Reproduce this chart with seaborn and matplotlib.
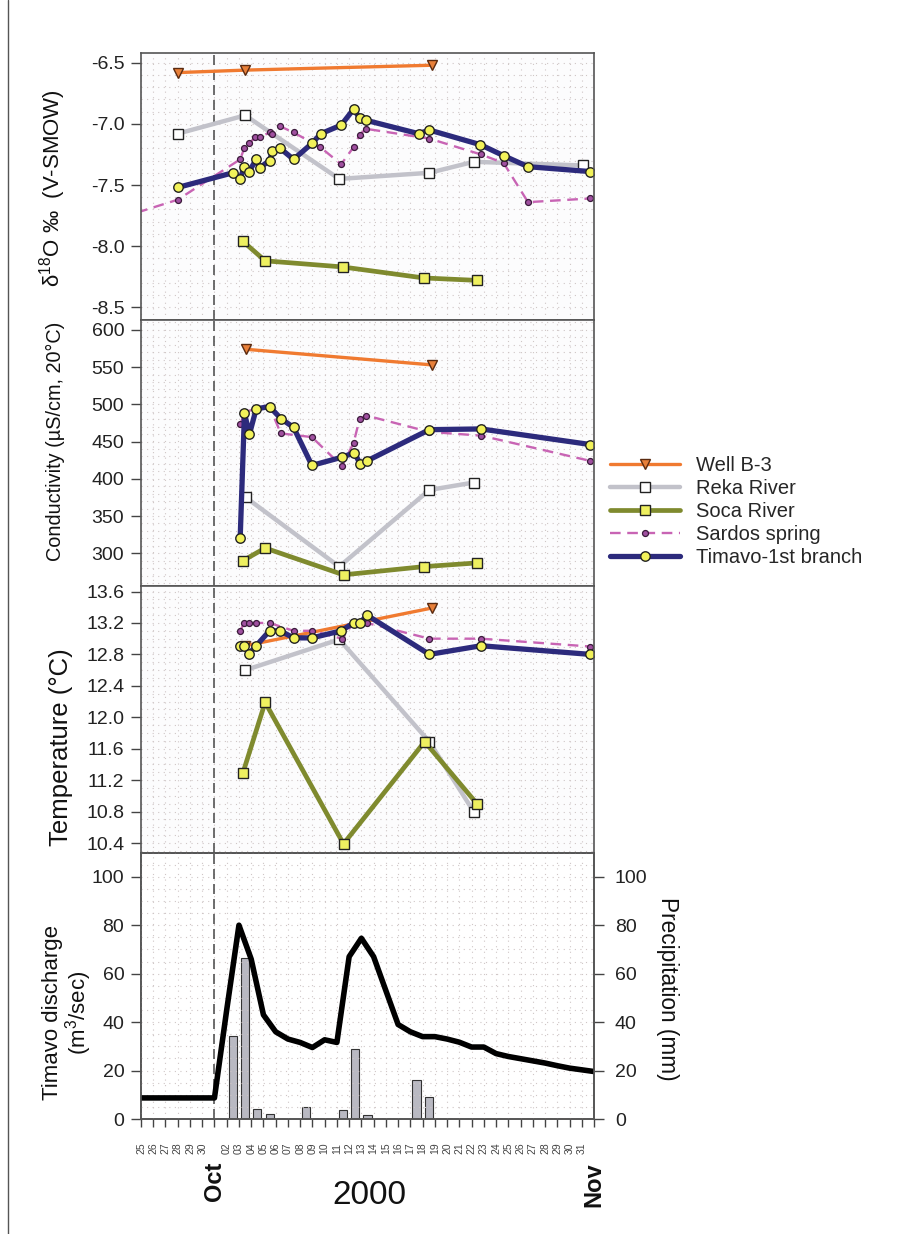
import matplotlib
matplotlib.use("Agg")
import matplotlib.pyplot as plt
import matplotlib.ticker as mticker
import matplotlib.transforms as mtransforms
from matplotlib.lines import Line2D
import seaborn as sns

# ---------------- data (x = day of October 2000; Sep 25 = -5, Nov 1 = 32)
tick_days = list(range(-5, 33))
tick_labels = [str(d + 30) if d <= 0 else ("" if d in (1, 32) else f"{d:02d}") for d in tick_days]

# delta 18O
well_d18o_x = [-1.94, 3.51, 18.77]
well_d18o_y = [-6.58, -6.56, -6.52]
reka_d18o_x = [-2.0, 3.51, 11.19, 18.55, 22.17, 31.08]
reka_d18o_y = [-7.08, -6.93, -7.45, -7.40, -7.31, -7.34]
soca_d18o_x = [3.32, 5.14, 11.46, 18.08, 22.44]
soca_d18o_y = [-7.96, -8.12, -8.17, -8.26, -8.28]
sardos_d18o_x = [-8.0, -2.0, 3.10, 3.43, 3.83, 4.32, 4.68, 5.50, 5.74, 6.37, 7.46, 9.64,
                 11.35, 12.36, 12.85, 13.37, 18.55, 22.77, 24.62, 26.61, 31.71]
sardos_d18o_y = [-7.81, -7.62, -7.29, -7.20, -7.16, -7.11, -7.11, -7.07, -7.08, -7.02, -7.07, -7.19,
                 -7.33, -7.19, -7.09, -7.04, -7.12, -7.25, -7.32, -7.64, -7.61]
timavo_d18o_x = [-2.0, 2.50, 3.10, 3.43, 3.83, 4.41, 4.68, 5.50, 5.74, 6.37, 7.46, 8.96, 9.69,
                 11.35, 12.36, 12.85, 13.37, 17.68, 18.55, 22.72, 24.62, 26.61, 31.71]
timavo_d18o_y = [-7.52, -7.40, -7.45, -7.35, -7.39, -7.29, -7.36, -7.30, -7.22, -7.20, -7.29, -7.16, -7.08,
                 -7.01, -6.88, -6.95, -6.97, -7.08, -7.05, -7.17, -7.26, -7.35, -7.39]

# conductivity
well_cond_x = [3.56, 18.77]
well_cond_y = [574, 553]
reka_cond_x = [3.56, 11.19, 18.55, 22.17]
reka_cond_y = [375, 282, 385, 395]
soca_cond_x = [3.32, 5.14, 11.54, 18.08, 22.44]
soca_cond_y = [290, 307, 271, 282, 287]
sardos_cond_x = [3.10, 3.51, 4.41, 5.50, 6.42, 8.96, 11.41, 12.36, 12.85, 13.40, 18.55, 22.77, 31.71]
sardos_cond_y = [473, 490, 494, 497, 461, 456, 417, 448, 480, 485, 463, 458, 424]
timavo_cond_x = [3.10, 3.45, 3.86, 4.41, 5.50, 6.42, 7.46, 8.96, 11.41, 12.42, 12.91, 13.45, 18.55, 22.77, 31.71]
timavo_cond_y = [320, 488, 460, 494, 497, 481, 469, 418, 429, 435, 420, 424, 466, 467, 446]

# temperature
well_temp_x = [3.51, 18.77]
well_temp_y = [12.91, 13.39]
reka_temp_x = [3.51, 11.19, 18.55, 22.17]
reka_temp_y = [12.60, 12.99, 11.69, 10.80]
soca_temp_x = [3.32, 5.14, 11.54, 18.17, 22.44]
soca_temp_y = [11.29, 12.19, 10.39, 11.69, 10.90]
sardos_temp_x = [3.10, 3.43, 3.83, 4.41, 5.50, 7.46, 8.96, 11.41, 12.36, 12.91, 13.45, 18.55, 22.77, 31.71]
sardos_temp_y = [13.10, 13.20, 13.20, 13.20, 13.20, 13.10, 13.10, 13.00, 13.20, 13.20, 13.20, 13.00, 13.00, 12.90]
timavo_temp_x = [3.10, 3.43, 3.83, 4.41, 5.50, 6.37, 7.46, 8.96, 11.35, 12.36, 12.91, 13.45, 18.55, 22.77, 31.71]
timavo_temp_y = [12.91, 12.91, 12.81, 12.91, 13.10, 13.10, 13.01, 13.01, 13.10, 13.20, 13.20, 13.30, 12.80, 12.91, 12.80]

# discharge (daily) and precipitation
discharge_x = list(range(-5, 33))
discharge_y = [8.7, 8.7, 8.7, 8.7, 8.7, 8.7, 8.7, 45, 80, 66, 43, 36, 33, 31.6, 29.5, 32.7, 31.6,
               67, 74.6, 67, 53, 39, 36, 34, 34, 33, 31.7, 29.7, 29.7, 27, 25.8, 24.9, 24, 23.1,
               22, 21, 20.3, 19.6]
precip_x = [2.5, 3.5, 4.5, 5.5, 8.5, 11.5, 12.5, 13.5, 17.5, 18.5]
precip_y = [34.1, 66.6, 4.3, 2.1, 4.8, 3.8, 28.8, 1.8, 16.2, 9.1]

series_names = ["Well B-3", "Reka River", "Soca River", "Sardos spring", "Timavo-1st branch"]

# ---------------- style
sns.set_theme(style="white")
plt.rcParams["font.family"] = ["Liberation Sans", "DejaVu Sans"]
plt.rcParams["mathtext.fontset"] = "custom"
plt.rcParams["mathtext.rm"] = "Liberation Sans"
plt.rcParams["mathtext.it"] = "Liberation Sans:italic"
plt.rcParams["mathtext.default"] = "regular"
plt.rcParams["axes.unicode_minus"] = False

styles = {
    "Well B-3": dict(color="#f07a30", linewidth=2.4, marker="v", markersize=7,
                     markerfacecolor="#e8803a", markeredgecolor="#5a2a10", markeredgewidth=1.0),
    "Reka River": dict(color="#c2c2ca", linewidth=3.2, marker="s", markersize=6.5,
                       markerfacecolor="white", markeredgecolor="#222222", markeredgewidth=1.0),
    "Soca River": dict(color="#7f8a2e", linewidth=3.4, marker="s", markersize=6.5,
                       markerfacecolor="#eef060", markeredgecolor="#222222", markeredgewidth=1.0),
    "Sardos spring": dict(color="#c864b4", linewidth=1.7, linestyle=(0, (4.5, 2.8)), marker="o",
                          markersize=4.3, markerfacecolor="#a050a0", markeredgecolor="#3a1a3a",
                          markeredgewidth=0.9),
    "Timavo-1st branch": dict(color="#2c2a7c", linewidth=3.8, marker="o", markersize=6.8,
                              markerfacecolor="#f2f25a", markeredgecolor="#222222", markeredgewidth=1.0),
}

W, H = 900, 1234
fig = plt.figure(figsize=(W / 100, H / 100), dpi=100)
left, right = 141, 594
top, bottom = 53, 1119
ph = (bottom - top) / 4.0


def rect(i):
    t = top + i * ph
    return [left / W, 1 - (t + ph) / H, (right - left) / W, ph / H]


ax1 = fig.add_axes(rect(0))
ax2 = fig.add_axes(rect(1), sharex=ax1)
ax3 = fig.add_axes(rect(2), sharex=ax1)
ax4 = fig.add_axes(rect(3), sharex=ax1)
axes = [ax1, ax2, ax3, ax4]

panels = [
    (ax1, [(well_d18o_x, well_d18o_y), (reka_d18o_x, reka_d18o_y), (soca_d18o_x, soca_d18o_y),
           (sardos_d18o_x, sardos_d18o_y), (timavo_d18o_x, timavo_d18o_y)]),
    (ax2, [(well_cond_x, well_cond_y), (reka_cond_x, reka_cond_y), (soca_cond_x, soca_cond_y),
           (sardos_cond_x, sardos_cond_y), (timavo_cond_x, timavo_cond_y)]),
    (ax3, [(well_temp_x, well_temp_y), (reka_temp_x, reka_temp_y), (soca_temp_x, soca_temp_y),
           (sardos_temp_x, sardos_temp_y), (timavo_temp_x, timavo_temp_y)]),
]

for ax, data in panels:
    for name, (xs, ys) in zip(series_names, data):
        sns.lineplot(x=xs, y=ys, ax=ax, label=name, estimator=None, sort=False, **styles[name])

# bottom panel: precipitation bars (right axis) + discharge line (left axis)
ax4b = ax4.twinx()
sns.barplot(x=precip_x, y=precip_y, ax=ax4b, native_scale=True, width=0.66,
            color="#b9b9c2", edgecolor="#333333", linewidth=0.8, errorbar=None, saturation=1)
sns.lineplot(x=discharge_x, y=discharge_y, ax=ax4, color="black", linewidth=4.0,
             estimator=None, sort=False)
ax4b.set_zorder(ax4.get_zorder() - 1)
ax4.patch.set_visible(False)
ax4b.set_facecolor("#fcfcfd")

ylims = [(-8.6, -6.42), (256, 614), (10.28, 13.67), (0, 110)]
majors = [0.5, 50, 0.4, 20]
minors = [0.1, 10, 0.1, 5]
grid_kw = dict(color="#cfc6c6", linestyle=(0, (1, 4)), linewidth=0.8)

for ax, yl, mj, mn in zip(axes, ylims, majors, minors):
    if ax is not ax4:
        ax.set_facecolor("#fcfcfd")
    ax.set_xlim(-5, 32)
    ax.set_ylim(*yl)
    ax.xaxis.set_major_locator(mticker.FixedLocator(tick_days))
    ax.yaxis.set_major_locator(mticker.MultipleLocator(mj))
    ax.yaxis.set_minor_locator(mticker.MultipleLocator(mn))
    ax.grid(which="major", axis="x", **grid_kw)
    ax.grid(which="both", axis="y", **grid_kw)
    ax.set_axisbelow(True)
    ax.axvline(1, color="#555555", linewidth=1.2, dashes=(6, 3), zorder=1.5)
    for s in ax.spines.values():
        s.set_color("#555555")
        s.set_linewidth(1.2)
    ax.tick_params(axis="y", which="major", left=True, direction="out", length=7, width=1,
                   color="#444444", labelsize=14, pad=5, labelcolor="#222222")
    ax.tick_params(axis="y", which="minor", left=False, length=0)
    ax.set_xlabel("")
    leg = ax.get_legend()
    if leg is not None:
        leg.remove()

ax1.yaxis.set_major_formatter(mticker.FormatStrFormatter("%.1f"))
ax3.yaxis.set_major_formatter(mticker.FormatStrFormatter("%.1f"))

for ax in (ax1, ax2, ax3):
    ax.tick_params(axis="x", bottom=False, labelbottom=False)

ax4b.set_ylim(0, 110)
ax4b.yaxis.set_major_locator(mticker.MultipleLocator(20))
ax4b.tick_params(axis="y", right=True, direction="out", length=7, width=1, color="#444444",
                 labelsize=14, pad=8, labelcolor="#222222")
for s in ax4b.spines.values():
    s.set_color("#555555")
    s.set_linewidth(1.2)

ax4.set_xticks(tick_days)
ax4.set_xticklabels(tick_labels, rotation=90, fontsize=7.5, color="#444444")
ax4.tick_params(axis="x", bottom=True, direction="out", length=6, width=1, color="#444444", pad=11)

# y labels
ax1.set_ylabel(r"$\delta^{18}$O ‰  (V-SMOW)", fontsize=16)
ax2.set_ylabel("Conductivity (µS/cm, 20°C)", fontsize=14.3)
ax3.set_ylabel("Temperature (°C)", fontsize=18.5)
ax4.set_ylabel("Timavo discharge\n(m$^3$/sec)", fontsize=16, linespacing=1.0)
ax4b.set_ylabel("Precipitation (mm)", fontsize=16.3, rotation=-90)
label_pos = [(ax1, -0.196, 0.492), (ax2, -0.188, 0.544), (ax3, -0.177, 0.396),
             (ax4, -0.162, 0.398), (ax4b, 1.163, 0.49)]
for ax, lx, ly in label_pos:
    ax.yaxis.set_label_coords(lx, ly)
    ax.yaxis.label.set_va("center")
    ax.yaxis.label.set_ha("center")
    ax.yaxis.label.set_color("#111111")

# month / year annotations
trans = mtransforms.blended_transform_factory(ax4.transData, ax4.transAxes)
yoff = (bottom - 1162) / ph
ax4.text(1, yoff, "Oct", rotation=90, ha="center", va="top", fontsize=17, fontweight="bold",
         transform=trans, color="#111111")
ax4.text(32, yoff, "Nov", rotation=90, ha="center", va="top", fontsize=17, fontweight="bold",
         transform=trans, color="#111111")
fig.text(369 / W, 1 - 1196 / H, "2000", fontsize=24, ha="center", va="center", color="#111111")

# legend
handles, labels = ax1.get_legend_handles_labels()
fig.legend(handles, labels, loc="upper left", bbox_to_anchor=(610 / W, 1 - 456 / H),
           frameon=False, fontsize=14.5, handlelength=3.5, handletextpad=0.75,
           labelspacing=0.2, borderpad=0, borderaxespad=0)

# page frame (left edge)
fig.add_artist(Line2D([8 / W, 8 / W], [0, 1], transform=fig.transFigure, color="#555555", linewidth=1))

fig.savefig("out.png", dpi=100)
